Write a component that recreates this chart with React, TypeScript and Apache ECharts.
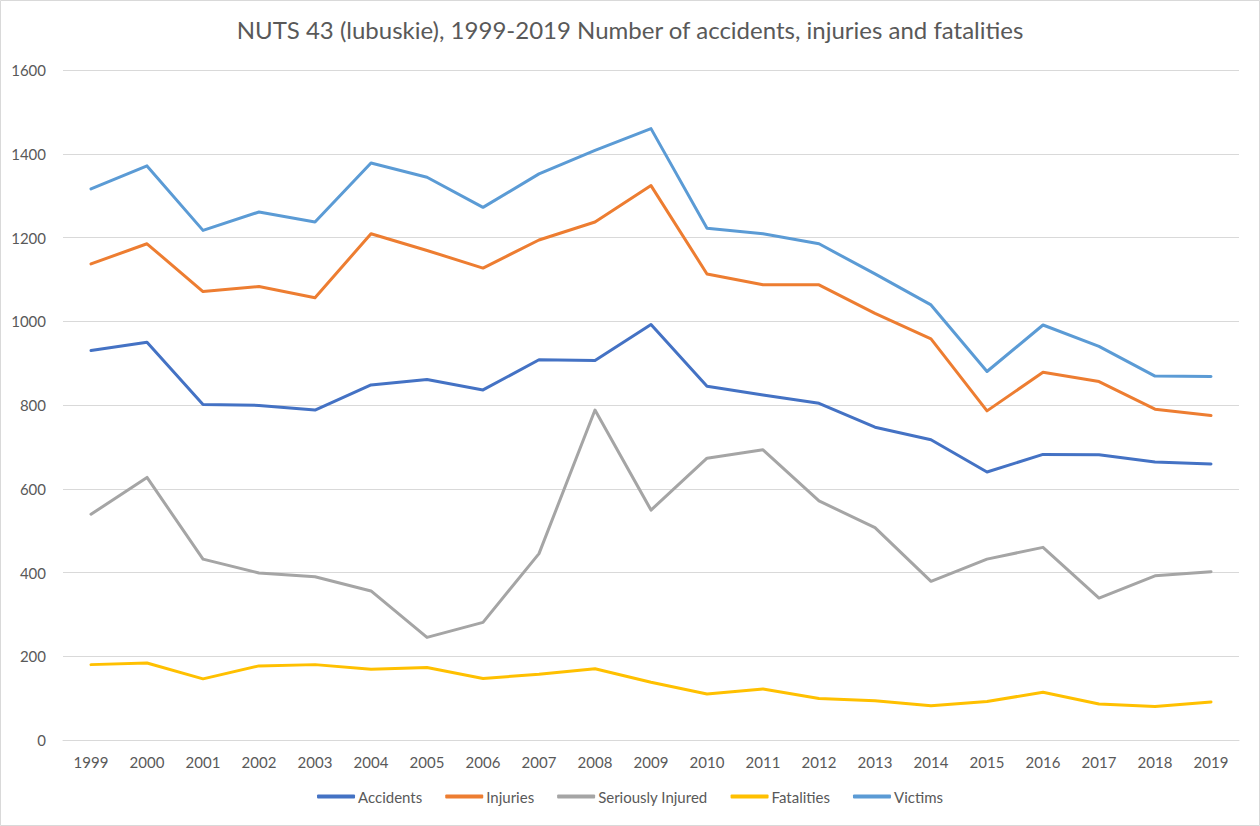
import React, { useEffect, useRef } from "react";
import * as echarts from "echarts";

const years = ["1999","2000","2001","2002","2003","2004","2005","2006","2007","2008","2009","2010","2011","2012","2013","2014","2015","2016","2017","2018","2019"];
const accidents = [930, 950, 801, 799, 788, 848, 861, 836, 908, 906, 992, 845, 824, 804, 747, 717, 640, 682, 681, 664, 659];
const injuries = [1137, 1185, 1071, 1083, 1056, 1209, 1169, 1127, 1194, 1237, 1324, 1113, 1087, 1087, 1019, 958, 786, 878, 856, 790, 775];
const seriouslyInjured = [539, 627, 432, 399, 390, 356, 245, 281, 445, 788, 549, 673, 693, 571, 507, 379, 432, 460, 339, 392, 402];
const fatalities = [180, 184, 146, 177, 180, 169, 173, 147, 157, 170, 138, 110, 122, 99, 94, 82, 92, 114, 86, 80, 91];
const victims = [1316, 1371, 1217, 1261, 1237, 1378, 1344, 1272, 1352, 1408, 1460, 1222, 1209, 1185, 1113, 1039, 880, 991, 940, 869, 868];

const seriesDefs = [
  { name: "Accidents", data: accidents, color: "#4472C4" },
  { name: "Injuries", data: injuries, color: "#ED7D31" },
  { name: "Seriously Injured", data: seriouslyInjured, color: "#A5A5A5" },
  { name: "Fatalities", data: fatalities, color: "#FFC000" },
  { name: "Victims", data: victims, color: "#5B9BD5" },
];

const FONT = "Lato, 'Open Sans', sans-serif";
const TEXT = "#595959";

export default function App() {
  const ref = useRef<HTMLDivElement>(null);
  useEffect(() => {
    document.body.style.margin = "0";
    if (!ref.current) return;
    const chart = echarts.init(ref.current, undefined, { renderer: "svg" });
    chart.setOption({
      animation: false,
      backgroundColor: "#ffffff",
      title: {
        text: "NUTS 43 (lubuskie), 1999-2019 Number of accidents, injuries and fatalities",
        left: "center",
        top: 12,
        textStyle: { fontFamily: FONT, fontSize: 24, fontWeight: "normal", color: TEXT },
      },
      graphic: [
        {
          type: "rect",
          shape: { x: 0.5, y: 0.5, width: 1259, height: 825 },
          style: { fill: "none", stroke: "#D9D9D9", lineWidth: 1 },
          silent: true,
        },
      ],
      grid: { left: 63, right: 21, top: 70, bottom: 86, containLabel: false },
      legend: {
        bottom: 17,
        left: "center",
        itemWidth: 38,
        itemHeight: 4,
        itemGap: 23,
        icon: "roundRect",
        textStyle: { fontFamily: FONT, fontSize: 15, color: TEXT, padding: [0, 0, 0, -2] },
        data: seriesDefs.map((s) => s.name),
      },
      xAxis: {
        type: "category",
        data: years,
        boundaryGap: true,
        axisLine: { show: true, lineStyle: { color: "#D9D9D9", width: 1 } },
        axisTick: { show: false },
        axisLabel: { fontFamily: FONT, fontSize: 15, color: TEXT, margin: 14 },
      },
      yAxis: {
        type: "value",
        min: 0,
        max: 1600,
        interval: 200,
        axisLine: { show: false },
        axisTick: { show: false },
        splitLine: { lineStyle: { color: "#D9D9D9", width: 1 } },
        axisLabel: {
          fontFamily: FONT,
          fontSize: 15,
          color: TEXT,
          margin: 17,
          formatter: (v: number) => String(v),
        },
      },
      series: seriesDefs.map((s) => ({
        name: s.name,
        type: "line",
        data: s.data,
        symbol: "none",
        lineStyle: { color: s.color, width: 3, cap: "round", join: "round" },
        itemStyle: { color: s.color },
      })),
    });
    return () => chart.dispose();
  }, []);
  return <div ref={ref} style={{ width: 1260, height: 826 }} />;
}
